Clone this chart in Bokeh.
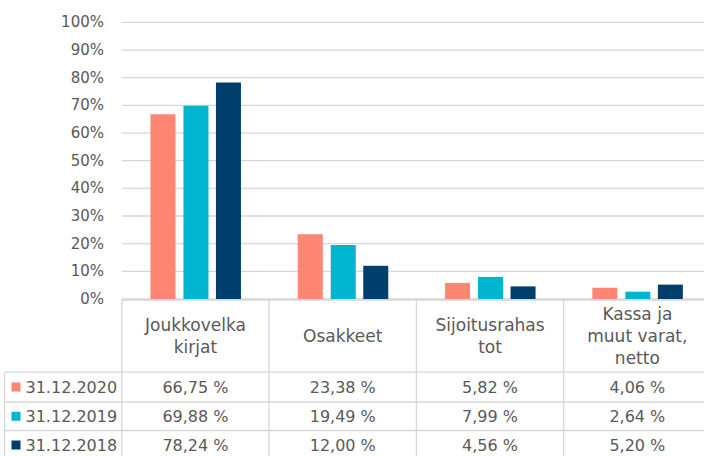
from bokeh.plotting import figure
from bokeh.models import Range1d
from bokeh.embed import file_html
from bokeh.resources import INLINE
from bokeh.core.properties import value

# ---- data ----
categories = [["Joukkovelka", "kirjat"], ["Osakkeet"], ["Sijoitusrahas", "tot"], ["Kassa ja", "muut varat,", "netto"]]
series_names = ["31.12.2020", "31.12.2019", "31.12.2018"]
v2020 = [66.75, 23.38, 5.82, 4.06]
v2019 = [69.88, 19.49, 7.99, 2.64]
v2018 = [78.24, 12.00, 4.56, 5.20]
series_values = [v2020, v2019, v2018]
colors = ["#FF8672", "#00B5CF", "#003F6B"]
y_ticks = [0, 10, 20, 30, 40, 50, 60, 70, 80, 90, 100]
y_tick_labels = ["0%", "10%", "20%", "30%", "40%", "50%", "60%", "70%", "80%", "90%", "100%"]

# ---- layout (pixel geometry of the reference) ----
W, H = 704, 456
Y0, PPU = 298.5, 2.766      # y of 0 %, pixels per 1 %
X0, COLW = 121.3, 147.3     # x of first column edge, column width

def fx(px):
    return (px - X0) / COLW

def fy(py):
    return (Y0 - py) / PPU

FONT = value("DejaVu Sans")
TXT = "#595959"
LINE = "#d6d6d6"

p = figure(width=W, height=H, output_backend="svg", toolbar_location=None,
           x_range=Range1d(fx(0), fx(W)), y_range=Range1d(fy(H), fy(0)),
           x_axis_location=None, y_axis_location=None, min_border=0,
           outline_line_color=None, background_fill_color="white", border_fill_color="white")
p.grid.visible = False

# gridlines
p.segment(x0=[fx(X0)] * len(y_ticks), x1=[fx(W)] * len(y_ticks), y0=y_ticks, y1=y_ticks,
          line_color=LINE, line_width=1.3)

# y tick labels
p.text(x=[fx(103.5)] * len(y_ticks), y=y_ticks, text=y_tick_labels, text_align="right",
       text_baseline="middle", text_font=FONT, text_font_size="15px", text_color=TXT)

# bars
offsets = [-32.5, 0.5, 33.0]
n = len(categories)
for vals, col, off in zip(series_values, colors, offsets):
    xs = [i + 0.5 + off / COLW for i in range(n)]
    p.vbar(x=xs, top=vals, bottom=0, width=25 / COLW, fill_color=col, line_color=None)

# ---- data table ----
top_py = 299.5
row_lines = [371.7, 401.5, 430.0, 459.0]
bottom_py = 460
p.segment(x0=[fx(X0)], x1=[fx(W)], y0=[fy(top_py)], y1=[fy(top_py)], line_color=LINE, line_width=1.3)
p.segment(x0=[fx(4)] * len(row_lines), x1=[fx(W)] * len(row_lines),
          y0=[fy(r) for r in row_lines], y1=[fy(r) for r in row_lines], line_color=LINE, line_width=1.3)
vx = [float(i) for i in range(n + 1)]
p.segment(x0=vx, x1=vx, y0=[fy(top_py)] * len(vx), y1=[fy(bottom_py)] * len(vx), line_color=LINE, line_width=1.3)
p.segment(x0=[fx(4)], x1=[fx(4)], y0=[fy(row_lines[0])], y1=[fy(bottom_py)], line_color=LINE, line_width=1.3)

# header texts
hx, hy, ht = [], [], []
mid = (top_py + row_lines[0]) / 2
for i, lines in enumerate(categories):
    k = len(lines)
    for j, t in enumerate(lines):
        hx.append(i + 0.5)
        hy.append(fy(mid + (j - (k - 1) / 2) * 22))
        ht.append(t)
p.text(x=hx, y=hy, text=ht, text_align="center", text_baseline="middle",
       text_font=FONT, text_font_size="17px", text_color=TXT)

# rows
row_centers = [(row_lines[r] + row_lines[r + 1]) / 2 for r in range(3)]
for r, (name, vals, col) in enumerate(zip(series_names, series_values, colors)):
    yc = fy(row_centers[r])
    p.scatter(x=[fx(15.5)], y=[yc], marker="square", size=9, fill_color=col, line_color=None)
    p.text(x=[fx(25)], y=[yc], text=[name], text_align="left", text_baseline="middle",
           text_font=FONT, text_font_size="16px", text_color=TXT)
    labels = [f"{v:.2f} %".replace(".", ",") for v in vals]
    p.text(x=[i + 0.5 for i in range(n)], y=[yc] * n, text=labels, text_align="center",
           text_baseline="middle", text_font=FONT, text_font_size="16px", text_color=TXT)

open("out.html", "w").write(file_html(p, INLINE))
